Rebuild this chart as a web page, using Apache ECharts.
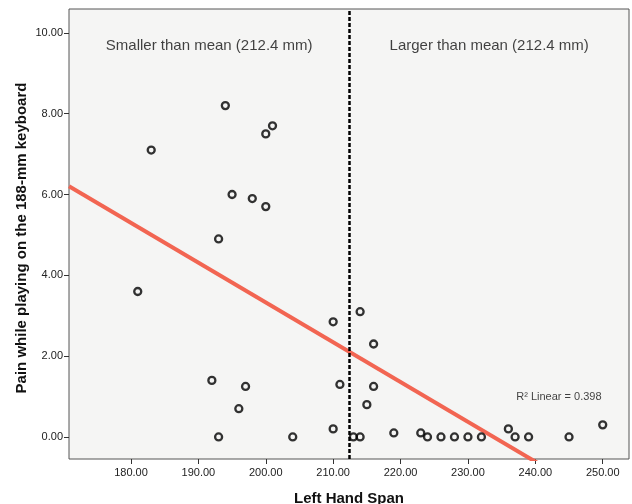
<!DOCTYPE html>
<html>
<head>
<meta charset="utf-8">
<script src="https://cdn.jsdelivr.net/npm/echarts@6/dist/echarts.min.js"></script>
<style>
  html, body { margin: 0; padding: 0; background: #ffffff; }
  #chart { width: 632px; height: 504px; }
</style>
</head>
<body>
<div id="chart"></div>
<script>
// ---- Data ----
const handSpan = [194, 183, 201, 200, 195, 198, 200, 193, 181, 210, 192, 197, 211, 196, 193, 204, 210, 213, 214, 216, 216, 215, 214, 219, 223, 224, 226, 228, 230, 232, 236, 237, 239, 245, 250];
const pain     = [8.2, 7.1, 7.7, 7.5, 6.0, 5.9, 5.7, 4.9, 3.6, 2.85, 1.4, 1.25, 1.3, 0.7, 0.0, 0.0, 0.2, 0.0, 3.1, 2.3, 1.25, 0.8, 0.0, 0.1, 0.1, 0.0, 0.0, 0.0, 0.0, 0.0, 0.2, 0.0, 0.0, 0.0, 0.3];
const meanSpan = 212.4;
const fitIntercept = 23.03;
const fitSlope = -0.0985;
const rSquared = 0.398;
const xTicks = [180, 190, 200, 210, 220, 230, 240, 250];
const yTicks = [0, 2, 4, 6, 8, 10];
const xRange = [170.8, 253.9];
const yRange = [-0.545, 10.59];

const points = handSpan.map((x, i) => [x, pain[i]]);
const fitLine = xRange.map(x => [x, fitIntercept + fitSlope * x]);

const FONT = '"Liberation Sans", Arial, sans-serif';
const chart = echarts.init(document.getElementById('chart'), null, { renderer: 'canvas' });
chart.setOption({
  backgroundColor: '#ffffff',
  animation: false,
  grid: {
    left: 69, top: 9, right: 3, bottom: 45, outerBoundsMode: 'none', containLabel: false,
    show: true, backgroundColor: '#f5f5f4', borderColor: '#555555', borderWidth: 1
  },
  xAxis: {
    type: 'value', min: xRange[0], max: xRange[1],
    name: 'Left Hand Span', nameLocation: 'middle', nameGap: 32,
    nameTextStyle: { fontFamily: FONT, fontWeight: 'bold', fontSize: 15, color: '#111' },
    axisLine: { show: false, onZero: false },
    splitLine: { show: false },
    axisTick: { show: true, length: 5, lineStyle: { color: '#333' }, customValues: xTicks },
    axisLabel: { customValues: xTicks, formatter: v => v.toFixed(2), fontFamily: FONT, fontSize: 11, color: '#222', margin: 8 }
  },
  yAxis: {
    type: 'value', min: yRange[0], max: yRange[1],
    axisLine: { show: false, onZero: false },
    splitLine: { show: false },
    axisTick: { show: true, length: 5, lineStyle: { color: '#333' }, customValues: yTicks },
    axisLabel: { customValues: yTicks, formatter: v => v.toFixed(2), fontFamily: FONT, fontSize: 11, color: '#222', margin: 6 }
  },
  graphic: [
    { type: 'text', x: 22, y: 238, rotation: Math.PI / 2,
      style: { text: 'Pain while playing on the 188-mm keyboard', font: 'bold 15px ' + FONT, fill: '#111', align: 'center', verticalAlign: 'middle' } }
  ],
  series: [
    {
      type: 'line', data: fitLine, showSymbol: false, symbol: 'none', clip: true,
      lineStyle: { color: '#f26552', width: 4 }, z: 2, silent: true,
      markLine: {
        silent: true, symbol: 'none',
        lineStyle: { color: '#000', type: [4, 2], width: 2.5 },
        label: { show: false },
        data: [{ xAxis: meanSpan }]
      }
    },
    {
      type: 'scatter', data: points, symbol: 'circle', symbolSize: 7,
      itemStyle: { color: 'rgba(0,0,0,0)', borderColor: '#000', borderWidth: 2.3 }, z: 3
    },
    {
      type: 'scatter', silent: true, symbolSize: 0,
      data: [
        { value: [(xRange[0] + meanSpan) / 2, 9.68], label: { show: true, formatter: 'Smaller than mean (' + meanSpan + ' mm)' } },
        { value: [(meanSpan + xRange[1]) / 2, 9.68], label: { show: true, formatter: 'Larger than mean (' + meanSpan + ' mm)' } },
        { value: [243.5, 1.0], label: { show: true, formatter: 'R² Linear = ' + rSquared, fontSize: 11 } }
      ],
      label: { position: 'inside', fontFamily: FONT, fontSize: 15, color: '#111' }
    }
  ]
});
</script>
</body>
</html>
